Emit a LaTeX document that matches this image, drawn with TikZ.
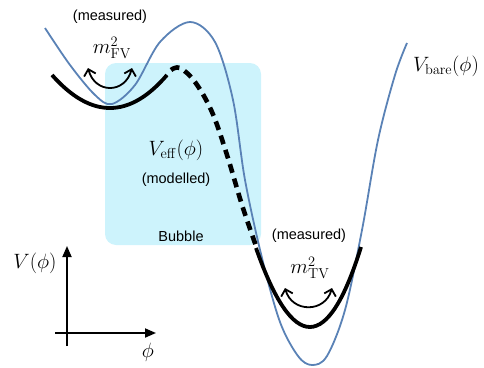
\documentclass[tikz,border=0pt]{standalone}
\usepackage[no-math]{fontspec}
\setmainfont{Liberation Sans}
\usetikzlibrary{arrows.meta}
\definecolor{barecol}{HTML}{5A82B6}
\definecolor{bubblecol}{HTML}{CDF3FC}
\tikzset{
  barecurve/.style={draw=barecol, line width=1.8pt, line join=round},
  fitcurve/.style={draw=black, line width=3.8pt},
  modcurve/.style={draw=black, line width=4.6pt, dash pattern=on 9pt off 6pt},
  oscarrow/.style={draw=black, line width=1.8pt, {Straight Barb[length=6pt,width=12pt]}-{Straight Barb[length=6pt,width=12pt]}},
  axisline/.style={draw=black, line width=1.8pt, -{Triangle[length=11pt,width=9pt]}},
  lbl/.style={font=\fontsize{14.5}{16}\selectfont, inner sep=0pt},
  mlbl/.style={font=\fontsize{20}{22}\selectfont, inner sep=0pt},
}
\begin{document}
\begin{tikzpicture}[x=1pt,y=-1pt]
\useasboundingbox (0,0) rectangle (484,367);
% bubble
\fill[bubblecol, rounded corners=11pt] (105,63) rectangle (261,245);
\node[lbl] (bubble) at (181,236) {Bubble};
% bare potential
\draw[barecurve] plot[smooth, tension=0.55] coordinates {
 (45,28) (70,65) (95,95) (112,104) (135,85) (160,42) (190,22) (215,42) (233,100)
 (245,180) (262,258) (280,322) (298,356) (312,365) (327,356) (345,310) (362,230)
 (378,140) (395,75) (407,43)};
% fitted false vacuum
\draw[fitcurve] (52,75) .. controls (91,119) and (129.3,119) .. (167,75);
% modelled part
\draw[modcurve] plot[smooth, tension=0.6] coordinates {(171,70) (180,68) (195,82) (212,112) (227,155) (242,205) (256,246)};
% fitted true vacuum
\draw[fitcurve] (256,248) .. controls (293,353.7) and (328,353.3) .. (361,247);
% oscillation arrows
\coordinate (fva) at (88,68);
\coordinate (fvb) at (132,68);
\draw[oscarrow] (fva) .. controls (95,94) and (125,94) .. (fvb);
\coordinate (tva) at (285,288);
\coordinate (tvb) at (332,288);
\draw[oscarrow] (tva) .. controls (292,313) and (325,313) .. (tvb);
% labels
\node[lbl] (measfv) at (110,17) {(measured)};
\node[mlbl] (mfv) at (112,48) {$m^2_{\mathrm{FV}}$};
\node[mlbl] (veff) at (176,150) {$V_{\mathrm{eff}}(\phi)$};
\node[lbl] (model) at (176,180) {(modelled)};
\node[mlbl] (vbare) at (446,66) {$V_{\mathrm{bare}}(\phi)$};
\node[lbl] (meastv) at (309,236) {(measured)};
\node[mlbl] (mtv) at (310,268) {$m^2_{\mathrm{TV}}$};
% axes
\coordinate (vbot) at (67,346);
\coordinate (vtop) at (67,246);
\coordinate (hleft) at (55,333);
\coordinate (hright) at (156,333);
\draw[axisline] (vbot) -- (vtop);
\draw[axisline] (hleft) -- (hright);
\node[mlbl] (vphi) at (35,263) {$V(\phi)$};
\node[mlbl] (phi) at (148,352) {$\phi$};
\end{tikzpicture}
\end{document}
